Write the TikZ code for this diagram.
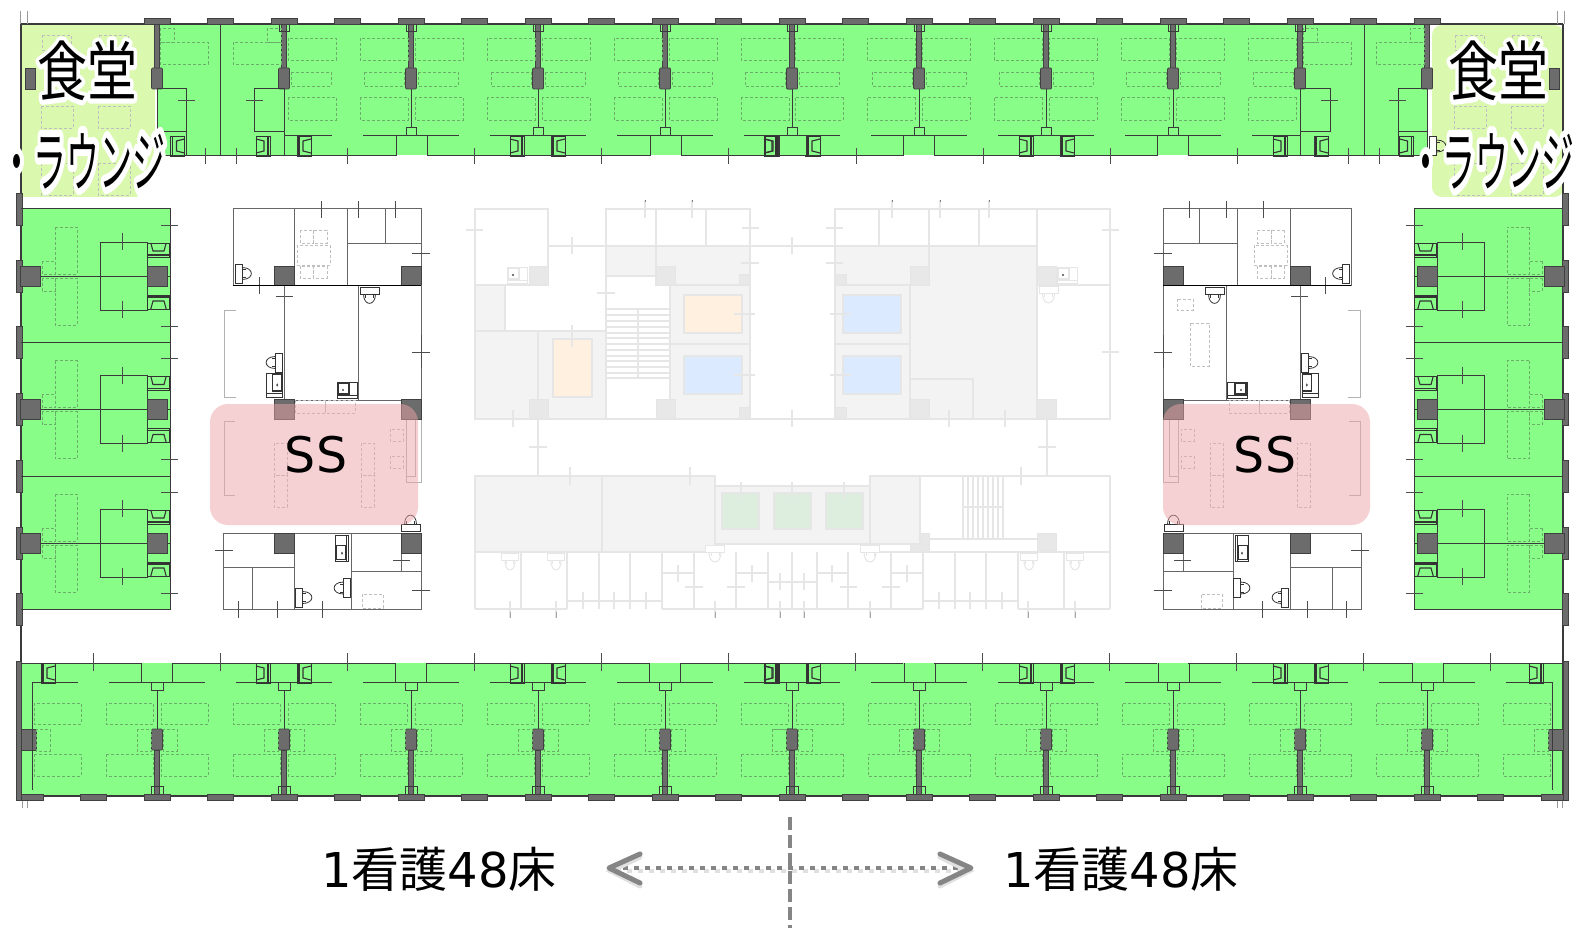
\documentclass[tikz,border=0pt]{standalone}
\usepackage{fontspec}
\setmainfont{DejaVu Sans}
\newfontfamily\cjk{Noto Sans CJK JP}
\usetikzlibrary{calc}

\definecolor{wardgreen}{HTML}{88FE88}
\definecolor{loungegreen}{HTML}{DAF8AE}
\definecolor{sspink}{HTML}{EDA5A9}
\definecolor{wallcol}{HTML}{3A3A3A}
\definecolor{pillarcol}{HTML}{6C6C6C}
\definecolor{furncol}{HTML}{6AAE6A}
\definecolor{faintline}{HTML}{E6E6E6}
\definecolor{faintfill}{HTML}{F3F3F3}
\definecolor{guidecol}{HTML}{858585}

\tikzset{
  outerwall/.style={draw=wallcol,line width=2},
  wall/.style={draw=wallcol,line width=1},
  roomwall/.style={draw=black!60,line width=1},
  pillar/.style={fill=pillarcol,draw=black!75,line width=.7},
  tickline/.style={draw=black!70,line width=.8},
  fixture/.style={draw=black!80,line width=.8},
  furn/.style={draw=furncol,line width=.7,dash pattern=on 3pt off 2pt},
  furnw/.style={draw=black!25,line width=.7,dash pattern=on 3pt off 2pt},
  bracketline/.style={draw=black!30,line width=.8},
  faintroom/.style={draw=faintline,line width=1.1},
  faintgray/.style={fill=faintfill,draw=faintline,line width=1.1},
  faintcol/.style={fill=black!9,draw=black!10,line width=.8},
  guideline/.style={draw=guidecol,line width=4},
}

%% wash basin seen from above, opening to the right
\newcommand{\washunit}{%
  \draw[fixture] (-7,-10) rectangle (7,10);
  \draw[fixture,line width=1.4] (-5,-10) -- (-5,10);
  \draw[fixture,line width=1.1] (7,-7) -- (-1,-5) -- (-1,5) -- (7,7);
}
%% toilet, tank on the left
\newcommand{\wcunit}{%
  \draw[fixture,fill=white] (-3.5,-9.5) rectangle (3.5,9.5);
  \draw[fixture] (3.5,-6) .. controls (16,-6) and (16,6) .. (3.5,6);
  \draw[fixture] (3.5,-4) -- (7,-4) (3.5,4) -- (7,4);
}
%% small sink with counter
\newcommand{\sinkunit}{%
  \draw[fixture,fill=white] (-10,-8) rectangle (10,8);
  \draw[fixture,line width=1.1] (-9,-7) rectangle (2,4);
  \fill[black!70] (-4,0) circle [radius=1.2];
  \draw[fixture] (-10,5.5) -- (10,5.5);
}

%% one half of the plan, drawn again in a mirrored scope
\newcommand{\halfplan}{%
  %%%% Fill the wards %%%%
  \fill[wardgreen] (157,25) rectangle (792,155);
  \fill[wardgreen] (21,209) rectangle (170,609);
  \fill[wardgreen] (21,663) rectangle (792,795);
  %%%% Outer walls and caps %%%%
  \draw[outerwall] (21,24) -- (792,24);
  \draw[outerwall] (21,24) -- (21,796) -- (792,796);
  \draw[black!40,line width=.8] (20,11) -- (20,24) (27,11) -- (27,24);
  \draw[black!40,line width=.8] (22,796) -- (22,808) (27,796) -- (27,808);
  \foreach \n in {0,...,10}{
    \draw[pillar] (157+63.5*\n-13,18) rectangle (157+63.5*\n+13,24);
  }
  \foreach \n in {0,...,12}{
    \draw[pillar] (30+63.5*\n-13,794) rectangle (30+63.5*\n+13,800);
  }
  \foreach \y in {209,276,342.5,409.5,476,543,609}{
    \draw[pillar] (16,\y-16) rectangle (22,\y+16);
  }
  \draw[pillar] (16,661) rectangle (21,800);
  \draw[pillar] (21,729) rectangle (36,750);
  \draw[pillar] (25,68) rectangle (35,89);
  %%%% Top ward %%%%
  \foreach \c in {157,284,411,538,665,792}{
    \draw[pillar] (\c-2.5,24) rectangle (\c+2.5,68);
    \draw[pillar,rounded corners=1] (\c-5.5,68) rectangle (\c+5.5,89);
  }
  \foreach \c in {411,538,665,792}{
    \draw[wall] (\c,89) -- (\c,128);
    \draw[wall] (\c-5,128) rectangle (\c+5,136);
  }
  \foreach \c in {284,411,538,665,792}{
    \draw[wall] (\c-5,24) -- (\c-5,32) -- (\c+5,32) -- (\c+5,24);
  }
  \foreach \c in {411,538,665,792}{
    \draw[wall] (\c-48,136) -- (\c+48,136);
  }
  \foreach \c in {284,538,792}{
    \begin{scope}[shift={(\c+20,146)}] \washunit \end{scope}
    \begin{scope}[shift={(\c-21,146)},xscale=-1] \washunit \end{scope}
    \draw[wall] (\c-14,136) -- (\c-14,156) (\c+13,136) -- (\c+13,156);
  }
  \foreach \c in {411,665}{
    \draw[wall] (\c-15,156) -- (\c-15,136) (\c+16,136) -- (\c+16,156);
  }
  \draw[wall] (157,156) -- (396,156) (427,156) -- (650,156) (681,156) -- (792,156);
  \draw[wall] (220,24) -- (220,156);
  \draw[wall] (284,89) -- (284,156) (284,136) -- (332,136);
  \draw[wall] (157,89) -- (157,156) (157,89) -- (186,89) -- (186,156) (157,132) -- (186,132);
  \draw[wall] (254,89) rectangle (284,132);
  \begin{scope}[shift={(177.5,146)}] \washunit \end{scope}
  \foreach \c in {284,411,538,665}{
    \draw[furn] (\c+4,38) rectangle (\c+52,60);
    \draw[furn] (\c+76,38) rectangle (\c+124,60);
    \draw[furn] (\c+7,72) rectangle (\c+47,86);
    \draw[furn] (\c+80,72) rectangle (\c+120,86);
    \draw[furn] (\c+4,97) rectangle (\c+52,120);
    \draw[furn] (\c+76,97) rectangle (\c+124,120);
  }
  \draw[furn] (160,42) rectangle (208,64) (233,42) rectangle (281,64);
  \draw[furn] (160,28) rectangle (174,42) (267,28) rectangle (281,42);
  \foreach \x in {205,236,347,474,601,728}{
    \draw[tickline] (\x,148) -- (\x,164);
  }
  \draw[tickline] (178,100) -- (195,100) (246,100) -- (263,100);
  %%%% Side ward %%%%
  \draw[wall] (21,209) -- (170,209) -- (170,609) -- (21,609);
  \draw[wall] (21,342.5) -- (170,342.5) (21,476) -- (170,476);
  \foreach \y in {276,409.5,543}{
    \draw[furn] (55,\y-49) rectangle (77,\y-2) (55,\y+2) rectangle (77,\y+49);
    \draw[furn] (42,\y-15) rectangle (55,\y-2) (42,\y+2) rectangle (55,\y+15);
    \draw[wall] (40,\y) -- (170,\y);
    \draw[wall] (100,\y-34) rectangle (147,\y+34);
    \draw[pillar] (20,\y-10) rectangle (40,\y+10);
    \draw[pillar] (147,\y-10) rectangle (167,\y+10);
    \begin{scope}[shift={(158.5,\y-26)},rotate=90,yscale=1.1] \washunit \end{scope}
    \begin{scope}[shift={(158.5,\y+26)},rotate=-90,yscale=1.1] \washunit \end{scope}
    \draw[tickline] (122,\y-43) -- (122,\y-26) (122,\y+25) -- (122,\y+42);
    \draw[tickline] (161,\y-51) -- (178,\y-51) (161,\y+50) -- (178,\y+50);
  }
  %%%% Bottom ward %%%%
  \draw[wall] (21,663) -- (141,663) (172,663) -- (396,663) (427,663) -- (650,663) (681,663) -- (792,663);
  \draw[wall] (32,682) -- (32,790) (32,682) -- (78,682);
  \foreach \c in {157,284,411,538,665,792}{
    \draw[wall] (\c-48,682) -- (\c+48,682);
    \draw[wall] (\c-6,682) rectangle (\c+6,690);
    \draw[wall] (\c,690) -- (\c,729);
    \draw[pillar,rounded corners=1] (\c-5.5,729) rectangle (\c+5.5,750);
    \draw[pillar] (\c-2.5,750) rectangle (\c+2.5,794);
    \draw[wall] (\c-6,794) -- (\c-6,786) -- (\c+6,786) -- (\c+6,794);
  }
  \foreach \c in {157,411,665}{
    \draw[wall] (\c-16,663) -- (\c-16,682) (\c+15,682) -- (\c+15,663);
  }
  \foreach \c in {284,538,792}{
    \begin{scope}[shift={(\c+20,673)}] \washunit \end{scope}
    \begin{scope}[shift={(\c-21,673)},xscale=-1] \washunit \end{scope}
  }
  \begin{scope}[shift={(48,673)}] \washunit \end{scope}
  \foreach \b in {30,157,284,411,538,665}{
    \draw[furn] (\b+4,703) rectangle (\b+51,724) (\b+76,703) rectangle (\b+123,724);
    \draw[furn] (\b+4,754) rectangle (\b+51,776) (\b+76,754) rectangle (\b+123,776);
    \draw[furn] (\b+127-20,729) rectangle (\b+127-6,751) (\b+127+6,729) rectangle (\b+127+20,751);
  }
  \draw[furn] (36,729) rectangle (50,751);
  \foreach \x in {93.5,220.5,347.5,474.5,601.5,728.5}{
    \draw[tickline] (\x,653) -- (\x,671);
  }
  %%%% Staff block, upper part %%%%
  \draw[roomwall,fill=white] (233,209) rectangle (421,285);
  \draw[roomwall] (294,209) -- (294,285) (347,209) -- (347,285) (385,209) -- (385,243) (347,243) -- (421,243);
  \draw[pillar] (274,266) rectangle (294,285);
  \draw[pillar] (401,266) rectangle (421,285);
  \draw[furnw] (297,245) rectangle (330,265);
  \draw[furnw] (300,230) rectangle (313,243) (313,230) rectangle (327,243);
  \draw[furnw] (300,266) rectangle (313,278) (313,266) rectangle (327,278);
  \begin{scope}[shift={(238.5,273.5)}] \wcunit \end{scope}
  \draw[tickline] (321,201) -- (321,218) (358,201) -- (358,218) (395,201) -- (395,218);
  \draw[tickline] (412,253) -- (430,253) (259,277) -- (259,294) (276,296) -- (293,296);
  %% middle rooms
  \draw[roomwall] (284,285) -- (284,400) -- (421,400) -- (421,285) (358,285) -- (358,400);
  \draw[black,line width=1] (233,285) -- (421,285);
  \begin{scope}[shift={(369.5,290.5)},rotate=-90] \wcunit \end{scope}
  \begin{scope}[shift={(279,362.5)},xscale=-1] \wcunit \end{scope}
  \begin{scope}[shift={(274,385)},xscale=-1,yscale=1.5,xscale=.8] \sinkunit \end{scope}
  \begin{scope}[shift={(347,390)}] \sinkunit \end{scope}
  \draw[bracketline] (236,310) -- (224,310) -- (224,397) -- (236,397);
  \draw[tickline] (421,335) -- (421,368);
  \draw[tickline] (412,352) -- (430,352);
  %% open counter area
  \draw[furnw] (295,400) rectangle (325,413) (325,400) rectangle (355,413);
  \draw[furnw] (390,429) rectangle (403,441) (390,456) rectangle (403,468);
  \draw[furnw] (274,443) rectangle (287,475) (274,475) rectangle (287,507);
  \draw[furnw] (361,443) rectangle (374,475) (361,475) rectangle (374,507);
  \draw[bracketline] (235,421) -- (224,421) -- (224,495) -- (235,495);
  \draw[bracketline] (406,420) -- (406,482) -- (421,482) -- (421,420) (406,476) -- (415,476) -- (415,420);
  \draw[pillar] (274,399) rectangle (294,419);
  \draw[pillar] (401,399) rectangle (421,419);
  %% lower rooms
  \draw[roomwall,fill=white] (223,533) rectangle (421,609);
  \draw[roomwall] (294,533) -- (294,609) (351,533) -- (351,609) (223,567) -- (294,567) (252,567) -- (252,609);
  \draw[roomwall] (351,571) -- (421,571) (401,553) -- (401,571);
  \draw[pillar] (274,533) rectangle (294,553);
  \draw[pillar] (401,533) rectangle (421,553);
  \begin{scope}[shift={(342,548)},rotate=90,xscale=1.3,yscale=.8] \sinkunit \end{scope}
  \begin{scope}[shift={(347,588)},xscale=-1] \wcunit \end{scope}
  \begin{scope}[shift={(299,597.5)}] \wcunit \end{scope}
  \begin{scope}[shift={(410.5,528)},rotate=90] \wcunit \end{scope}
  \draw[furnw] (362,594) rectangle (383,608);
  \draw[tickline] (215,550) -- (233,550) (393,560) -- (410,560) (412,590) -- (430,590);
  \draw[tickline] (238,601) -- (238,618) (277,601) -- (277,618) (322,601) -- (322,618);
}

\newcommand{\halotext}[1]{\rlap{\special{pdf:code q 1 1 1 RG 1 J 1 j 7 w 1 Tr}\textcolor{white}{#1}\special{pdf:code 0 Tr Q}}#1}

\begin{document}
\begin{tikzpicture}[x=1pt,y=-1pt,
    canteen/.style={font=\cjk\fontsize{50}{50}\selectfont,inner sep=0,xscale=1,yscale=1.3,transform shape},
    lounge/.style={font=\cjk\fontsize{33}{33}\selectfont,inner sep=0,yscale=2,transform shape},
    bedcount/.style={font=\fontsize{48}{48}\selectfont,inner sep=0},
    sslabel/.style={font=\fontsize{49}{49}\selectfont,inner sep=0},
    ssarea/.style={fill=sspink,fill opacity=.5,rounded corners=18}]

  \useasboundingbox (0,0) rectangle (1576,928);
  \fill[white] (0,0) rectangle (1576,928);

  %%%% Dining rooms under the two halves %%%%
  \fill[loungegreen] (21,25) -- (155,25) -- (155,150) -- (137,197) -- (21,197) -- cycle;
  \fill[loungegreen,rounded corners=10] (1432,25) -- (1564,25) -- (1564,197) -- (1432,197) -- cycle;
  \foreach \x in {41,98,1454,1511}{
    \draw[furnw] (\x,106) rectangle (\x+32,128);
    \draw[furnw] (\x,163) rectangle (\x+32,195);
    \draw[furnw] (\x+1,35) rectangle (\x+30,50);
  }

  %%%% Central core, faded %%%%
  %% upper part
  \draw[faintgray] (475,285) rectangle (505,331);
  \draw[faintgray] (475,331) rectangle (606,419);
  \draw[faintgray] (606,246) rectangle (656,276);
  \draw[faintgray] (656,246) rectangle (750,285);
  \draw[faintgray] (670,285) rectangle (750,419);
  \draw[faintgray] (835,246) rectangle (1037,419);
  \draw[faintroom] (475,209) rectangle (548,285);
  \draw[faintroom] (606,246) -- (606,419);
  \draw[faintroom] (548,246) -- (835,246);
  \draw[faintroom] (606,209) rectangle (750,246);
  \draw[faintroom] (656,209) -- (656,285) (706,209) -- (706,246);
  \draw[faintroom] (538,331) -- (538,419) (670,344) -- (750,344);
  \draw[faintroom] (835,209) rectangle (1037,246);
  \draw[faintroom] (879,209) -- (879,246) (929,209) -- (929,285) (979,209) -- (979,246);
  \draw[faintroom] (1037,209) rectangle (1110,285);
  \draw[faintroom] (1037,285) rectangle (1110,419);
  \draw[faintroom] (835,285) -- (910,285) (910,285) -- (910,419) (835,344) -- (910,344);
  \draw[faintroom] (910,379) -- (973,379) -- (973,419);
  \draw[faintroom] (475,419) -- (1110,419);
  \foreach \y in {309,315,321,327,333,338,344,350,356,361,367,373,378}{
    \draw[faintroom] (606,\y) -- (670,\y);
  }
  \draw[faintroom] (638,309) -- (638,378);
  \draw[faintline,line width=1.1,fill=orange!12] (553,339) rectangle (592,397);
  \draw[faintline,line width=1.1,fill=orange!12] (684,295) rectangle (742,333);
  \draw[faintline,line width=1.1,fill=blue!60!cyan!14] (684,356) rectangle (742,394);
  \draw[faintline,line width=1.1,fill=blue!60!cyan!14] (843,295) rectangle (901,333);
  \draw[faintline,line width=1.1,fill=blue!60!cyan!14] (843,356) rectangle (901,394);
  \foreach \x/\y in {529/266,656/266,910/266,1037/266,529/399,656/399,910/399,1037/399,529/533,656/533,910/533,1037/533}{
    \draw[faintcol] (\x,\y) rectangle (\x+19,\y+19);
  }
  \foreach \x/\y in {739/274,739/407,835/274,835/407,715/533,859/533}{
    \draw[faintcol] (\x,\y) rectangle (\x+11,\y+11);
  }
  %% lower part
  \draw[faintroom] (538,419) -- (538,476) (1047,419) -- (1047,476);
  \draw[faintgray] (475,476) rectangle (602,552);
  \draw[faintgray] (602,476) rectangle (715,552);
  \draw[faintgray] (715,486) rectangle (870,544);
  \draw[faintgray] (870,476) rectangle (920,544);
  \draw[faintroom] (920,476) -- (1110,476) -- (1110,552);
  \draw[faintroom] (929,539) -- (1037,539);
  \foreach \x in {963,968,973,978,983,988,993,998,1003}{
    \draw[faintroom] (\x,476) -- (\x,539);
  }
  \draw[faintroom] (963,507) -- (1003,507);
  \foreach \x in {722,774,826}{
    \draw[faintline,line width=1.1,fill=green!50!black!13] (\x,493) rectangle (\x+37,529);
  }
  \draw[faintroom] (475,552) -- (715,552) (870,552) -- (1110,552);
  \foreach \x in {475,521,567,599,630,662,694,736,768,792,817,848,891,923,955,986,1018,1064,1110}{
    \draw[faintroom] (\x,552) -- (\x,609);
  }
  \draw[faintroom] (475,609) -- (567,609) (567,601) -- (662,601) (662,609) -- (923,609) (923,601) -- (1018,601) (1018,609) -- (1110,609);
  \draw[faintroom] (662,573) -- (694,573) (736,573) -- (768,573) (817,573) -- (848,573) (891,573) -- (923,573) (768,582) -- (817,582);
  %% ticks of the core
  \foreach \x in {645,692,892,940,989}{
    \draw[faintroom] (\x,200) -- (\x,218);
    \draw[black!50,line width=1] (\x,200) -- (\x,202);
  }
  \foreach \x/\ya/\yb in {572/237/254,792/237/254,572/325/347,513/410/427,792/410/427,949/410/427,1005/410/427,570/467/485,690/467/485,1021/467/485,741/482/498,792/482/498,844/482/498,678/565/582,752/565/582,832/565/582,907/565/582,780/573/590,804/573/590,583/592/609,614/592/609,646/592/609,939/592/609,970/592/609,1002/592/609}{
    \draw[faintroom] (\x,\ya) -- (\x,\yb);
  }
  \foreach \xa/\xb/\y in {466/483/230,1102/1119/230,1102/1119/352,597/615/293,742/759/228,826/843/228,741/759/263,826/843/263,734/755/314,830/851/314,734/755/375,830/851/375,529/547/447,1038/1056/447,685/703/587,727/745/587,840/857/587,882/900/587}{
    \draw[faintroom] (\xa,\y) -- (\xb,\y);
  }
  \foreach \x in {510,556,715,780,804,870,1028,1075}{
    \draw[faintroom] (\x,601) -- (\x,618);
    \draw[black!35,line width=1] (\x,612) -- (\x,618);
  }
  \begin{scope}[fixture/.style={draw=faintline,line width=1}]
    \begin{scope}[shift={(517,275)}] \sinkunit \end{scope}
    \begin{scope}[shift={(1067,275)}] \sinkunit \end{scope}
    \begin{scope}[shift={(1048.5,290)},rotate=-90] \wcunit \end{scope}
    \foreach \x in {510,556,1029,1075}{
      \begin{scope}[shift={(\x,557)},rotate=-90,yscale=.85] \wcunit \end{scope}
    }
    \foreach \x in {715,870}{
      \begin{scope}[shift={(\x,549)},rotate=-90] \wcunit \end{scope}
    }
  \end{scope}

  %%%% The two mirrored halves %%%%
  \halfplan
  \begin{scope}[shift={(1584,0)},xscale=-1]
    \halfplan
  \end{scope}

  %% only on the right
  \draw[furnw] (1177,299) rectangle (1193,310);
  \draw[furnw] (1190,323) rectangle (1209,366);
  \begin{scope}[shift={(1433,146)}] \wcunit \end{scope}

  %%%% Staff stations %%%%
  \fill[ssarea] (210,404) rectangle (418,525);
  \fill[ssarea] (1163,404) rectangle (1370,525);
  \node[sslabel] (ssLeft) at (316,455) {SS};
  \node[sslabel] (ssRight) at (1265,455) {SS};

  %%%% Dining labels %%%%
  \node[canteen] (canteenLeft) at (87,71) {\halotext{食堂}};
  \node[canteen] (canteenRight) at (1498,71) {\halotext{食堂}};
  \node[lounge] (loungeLeft) at (83,161) {\halotext{・ラウンジ}};
  \node[lounge] (loungeRight) at (1492,161) {\halotext{・ラウンジ}};

  %%%% Division of the two nursing units %%%%
  \coordinate (unitLeft) at (612,868);
  \coordinate (unitRight) at (968,868);
  \coordinate (splitTop) at (790,817);
  \coordinate (splitBottom) at (790,928);
  \draw[guidecol!25,line width=4,dash pattern=on 5pt off 6pt] ($(unitLeft)+(4,3)$) -- ($(unitRight)+(-4,3)$);
  \draw[guideline,dash pattern=on 5pt off 6pt] (unitLeft) -- (unitRight);
  \draw[guideline,dash pattern=on 13pt off 5pt] (splitTop) -- (splitBottom);
  \draw[guidecol!25,line width=5,line cap=round] (640,857) -- (611,871) -- (640,886) (940,857) -- (969,871) -- (940,886);
  \draw[guidecol,line width=5,line cap=round,line join=round] (640,854) -- (609,868) -- (640,883);
  \draw[guidecol,line width=5,line cap=round,line join=round] (940,854) -- (971,868) -- (940,883);
  \node[bedcount] (bedsLeft) at (439,869) {1{\cjk 看護}48{\cjk 床}};
  \node[bedcount] (bedsRight) at (1121,869) {1{\cjk 看護}48{\cjk 床}};
\end{tikzpicture}
\end{document}
